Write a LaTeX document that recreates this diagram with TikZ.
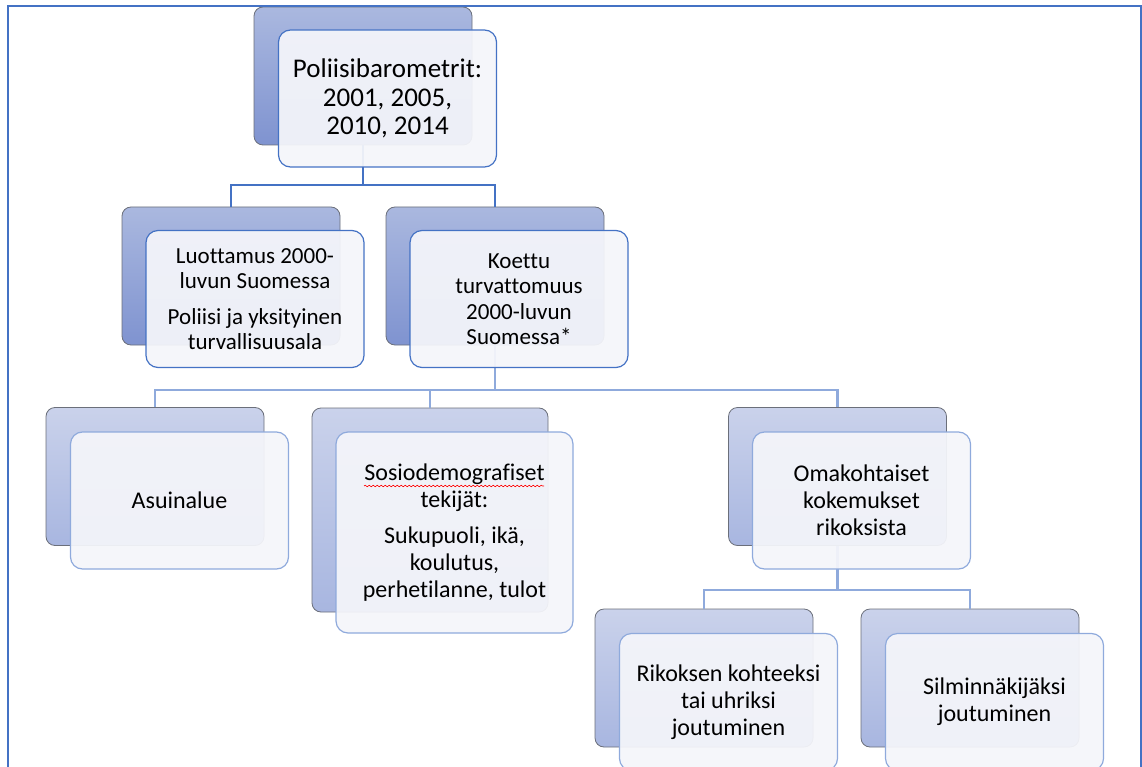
\documentclass[tikz,border=0pt]{standalone}
\usepackage{fontspec}
\setmainfont[Ligatures=NoCommon]{Carlito}
\usetikzlibrary{positioning, decorations.pathmorphing}
\definecolor{accblue}{HTML}{4472C4}
\definecolor{paleblue}{HTML}{8FAADC}
\definecolor{backdark}{HTML}{7F93D0}
\definecolor{backlight}{HTML}{AAB8DF}
\definecolor{backdarkb}{HTML}{A8B6E0}
\definecolor{backlightb}{HTML}{CAD2EB}
\definecolor{frontfill}{HTML}{F4F5FA}
\definecolor{backline}{HTML}{6B6F7A}
\tikzset{x=1pt, y=-1pt,
backbox/.style={rounded corners=9pt, draw=backline, line width=0.8pt,
    minimum width=218pt, minimum height=138pt, inner sep=0pt},
backtop/.style={backbox, top color=backlight, bottom color=backdark},
backlow/.style={backbox, top color=backlightb, bottom color=backdarkb},
frontbox/.style={rounded corners=12pt, line width=1.2pt, fill=frontfill,
    fill opacity=0.94, text opacity=1, minimum width=218pt,
    minimum height=137pt, align=center, inner sep=4pt},
fronttop/.style={frontbox, draw=accblue},
frontlow/.style={frontbox, draw=paleblue},
link/.style={line width=2.4pt, draw=accblue},
linklow/.style={line width=2.4pt, draw=paleblue},
}
\newcommand{\bigtxt}{\fontsize{27}{28.5}\selectfont}
\newcommand{\midtxt}{\fontsize{23}{25.5}\selectfont}
\newcommand{\lowtxt}{\fontsize{24}{27}\selectfont}

\begin{document}
\begin{tikzpicture}
    \useasboundingbox (0,0) rectangle (1142,767);
    % back boxes
    \node[backtop] (polb) at (363,76) {};
    \node[backtop] (luottb) at (231,276) {};
    \node[backtop] (koettub) at (495,276) {};
    \node[backlow] (asuinb) at (155,476.5) {};
    \node[backlow, minimum width=236pt, minimum height=204pt] (sosiob) at (430,510) {};
    \node[backlow] (omakb) at (837.5,476.5) {};
    \node[backlow] (rikosb) at (704,678) {};
    \node[backlow] (silminb) at (970,678) {};
    % connectors
    \coordinate (bar1) at (0,185);
    \coordinate (bar2) at (0,390);
    \coordinate (bar3) at (0,590);
    \draw[link]
        (polb.south) -- (polb.south |- bar1) -| (luottb.north)
        (polb.south |- bar1) -| (koettub.north)
    ;
    \draw[linklow]
        (koettub.south) -- (koettub.south |- bar2) -| (asuinb.north)
        (koettub.south |- bar2) -| (sosiob.north)
        (koettub.south |- bar2) -| (omakb.north)
        (omakb.south) -- (omakb.south |- bar3) -| (rikosb.north)
        (omakb.south |- bar3) -| (silminb.north)
    ;
    % front boxes
    \node[fronttop, font=\bigtxt, xshift=24.5pt, yshift=-22.5pt] (pol) at (polb)
        {Poliisibarometrit:\\2001, 2005,\\2010, 2014};
    \node[fronttop, font=\midtxt, xshift=24pt, yshift=-23pt] (luott) at (luottb)
        {Luottamus 2000-\\luvun Suomessa\\[10pt]Poliisi ja yksityinen\\turvallisuusala};
    \node[fronttop, font=\midtxt, xshift=24pt, yshift=-23pt] (koettu) at (koettub)
        {Koettu\\turvattomuus\\2000-luvun\\Suomessa*};
    \node[frontlow, font=\lowtxt, xshift=24.5pt, yshift=-24pt] (asuin) at (asuinb)
        {Asuinalue};
    \node[frontlow, font=\lowtxt, minimum width=237pt, minimum height=201pt,
        xshift=24.5pt, yshift=-22.5pt] (sosio) at (sosiob)
        {Sosiodemografiset\\tekijät:\\[9pt]Sukupuoli, ikä,\\koulutus,\\perhetilanne, tulot};
    \node[frontlow, font=\lowtxt, xshift=24pt, yshift=-24pt] (omak) at (omakb)
        {Omakohtaiset\\kokemukset\\rikoksista};
    \node[frontlow, font=\lowtxt, xshift=24.5pt, yshift=-24pt] (rikos) at (rikosb)
        {Rikoksen kohteeksi\\tai uhriksi\\joutuminen};
    \node[frontlow, font=\lowtxt, xshift=24.5pt, yshift=-24pt] (silmin) at (silminb)
        {Silminnäkijäksi\\joutuminen};
    % spell check mark
    \draw[red, line width=0.6pt, decorate,
        decoration={snake, amplitude=0.8pt, segment length=4pt}]
        (364,486) -- (544,486);
    % frame
    \draw[accblue, line width=2pt] (8,6) rectangle (1141,800);
\end{tikzpicture}
\end{document}
